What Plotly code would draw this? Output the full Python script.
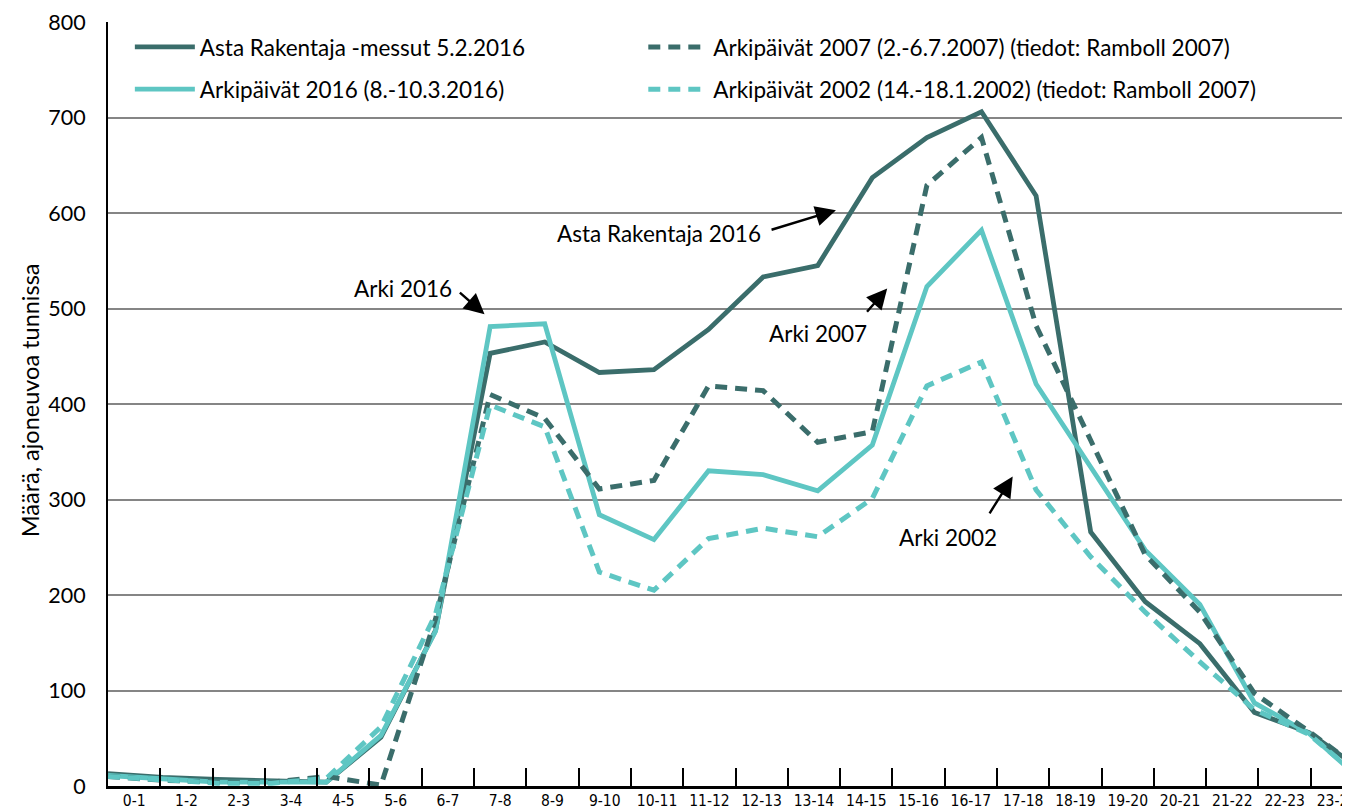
import plotly.graph_objects as go

hours = ["0-1", "1-2", "2-3", "3-4", "4-5", "5-6", "6-7", "7-8", "8-9", "9-10", "10-11", "11-12",
         "12-13", "13-14", "14-15", "15-16", "16-17", "17-18", "18-19", "19-20", "20-21", "21-22",
         "22-23", "23-24"]

asta_2016 = [13, 9, 7, 5, 4, 51, 163, 453, 465, 433, 436, 478, 533, 545, 637, 679, 706, 618,
             266, 193, 149, 77, 56, 15]
arki_2016 = [11, 7, 4, 4, 4, 53, 162, 481, 484, 284, 258, 330, 326, 309, 357, 523, 582, 421,
             333, 247, 190, 87, 55, 4]
arki_2007 = [10, 6, 4, 4, 10, 1, 175, 410, 385, 311, 320, 419, 414, 360, 371, 629, 679, 482,
             362, 242, 182, 97, 57, 15]
arki_2002 = [10, 6, 3, 3, 8, 62, 180, 399, 376, 224, 205, 259, 270, 261, 301, 419, 444, 310,
             240, 182, 130, 80, 54, 6]

names = ["Asta Rakentaja -messut 5.2.2016", "Arkipäivät 2016 (8.-10.3.2016)",
         "Arkipäivät 2007 (2.-6.7.2007) (tiedot: Ramboll 2007)",
         "Arkipäivät 2002 (14.-18.1.2002) (tiedot: Ramboll 2007)"]

DARK = "#3a6d6b"
LIGHT = "#5ec6c3"
FONT = "Lato, 'Open Sans', sans-serif"
NARROW = "'Liberation Sans Narrow', 'DejaVu Sans Condensed', sans-serif"

fig = go.Figure()
fig.add_trace(go.Scatter(x=hours, y=asta_2016, name=names[0], mode="lines",
                         line=dict(color=DARK, width=4.8), legend="legend", legendgroup="a"))
fig.add_trace(go.Scatter(x=hours, y=arki_2016, name=names[1], mode="lines",
                         line=dict(color=LIGHT, width=4.8), legend="legend", legendgroup="b"))
fig.add_trace(go.Scatter(x=hours, y=arki_2007, name=names[2], mode="lines",
                         line=dict(color=DARK, width=5, dash="12px,8px"), legend="legend2",
                         legendgroup="c"))
fig.add_trace(go.Scatter(x=hours, y=arki_2002, name=names[3], mode="lines",
                         line=dict(color=LIGHT, width=5, dash="12px,8px"), legend="legend2",
                         legendgroup="d"))
# empty trace to attach the label axis
fig.add_trace(go.Scatter(x=[], y=[], xaxis="x2", showlegend=False, hoverinfo="skip"))

ann_font = dict(family=FONT, size=22.5, color="black")
labels = [
    # text, text_x, text_y, tail_x, tail_y, head_x, head_y (x in label-axis units)
    ("Asta Rakentaja 2016", 10.53, 579, 12.66, 582, 13.92, 603),
    ("Arki 2016", 5.65, 521, 6.70, 518, 7.20, 494),
    ("Arki 2007", 13.58, 474, 14.49, 495, 14.90, 521),
    ("Arki 2002", 16.06, 260, 16.84, 284, 17.30, 324),
]
annotations = []
for t, tx, ty, ax, ay, hx, hy in labels:
    annotations.append(dict(text=t, x=tx, y=ty, xref="x2", yref="y", showarrow=False,
                            font=ann_font))
    annotations.append(dict(text="", x=hx, y=hy, xref="x2", yref="y", ax=ax, ay=ay,
                            axref="x2", ayref="y", showarrow=True, arrowhead=2,
                            arrowsize=1.7, arrowwidth=2.4, arrowcolor="black"))
annotations.append(dict(text="Määrä, ajoneuvoa tunnissa", x=-0.0628, y=0.505, xref="paper",
                        yref="paper", xanchor="center", yanchor="middle", textangle=-90,
                        showarrow=False, font=dict(family=FONT, size=23.5, color="black")))

# page body has an 8px margin: figure is sized so the plot lands where the reference has it
fig.update_layout(
    width=1342, height=800, autosize=False,
    margin=dict(l=100, r=0, t=14, b=22),
    paper_bgcolor="white", plot_bgcolor="white",
    font=dict(family=FONT, color="black"),
    xaxis=dict(type="category", range=[0, 22.75], showticklabels=False, ticks="",
               showgrid=False, zeroline=False, showline=True, linecolor="black", linewidth=3,
               automargin=False, fixedrange=True),
    xaxis2=dict(overlaying="x", anchor="y", side="bottom", range=[0, 23.75],
                tickmode="array", tickvals=[i + 0.5 for i in range(len(hours))], ticktext=hours,
                ticks="", showgrid=False, zeroline=False, showline=False, automargin=False,
                ticklabeloverflow="allow", ticklabelstandoff=3,
                tickfont=dict(family=NARROW, size=15.5, color="black"),
                minor=dict(tickmode="array", tickvals=list(range(1, len(hours))), ticks="inside",
                           ticklen=18, tickwidth=2, tickcolor="black", showgrid=False)),
    yaxis=dict(range=[0, 800], tickvals=list(range(0, 801, 100)), showgrid=True,
               gridcolor="#858585", gridwidth=1.5, zeroline=False, showline=True,
               linecolor="black", linewidth=2, ticks="", ticklabelstandoff=16, automargin=False,
               tickfont=dict(family=FONT, size=21.5, color="black")),
    legend=dict(x=0.0176, y=0.995, xanchor="left", yanchor="top", bgcolor="rgba(0,0,0,0)",
                font=dict(family=FONT, size=22.5, color="black"), tracegroupgap=10,
                itemwidth=60),
    legend2=dict(x=0.431, y=0.995, xanchor="left", yanchor="top", bgcolor="rgba(0,0,0,0)",
                 font=dict(family=FONT, size=22.5, color="black"), tracegroupgap=10,
                 itemwidth=60),
    annotations=annotations,
    showlegend=True,
)

fig.write_html("out.html")
